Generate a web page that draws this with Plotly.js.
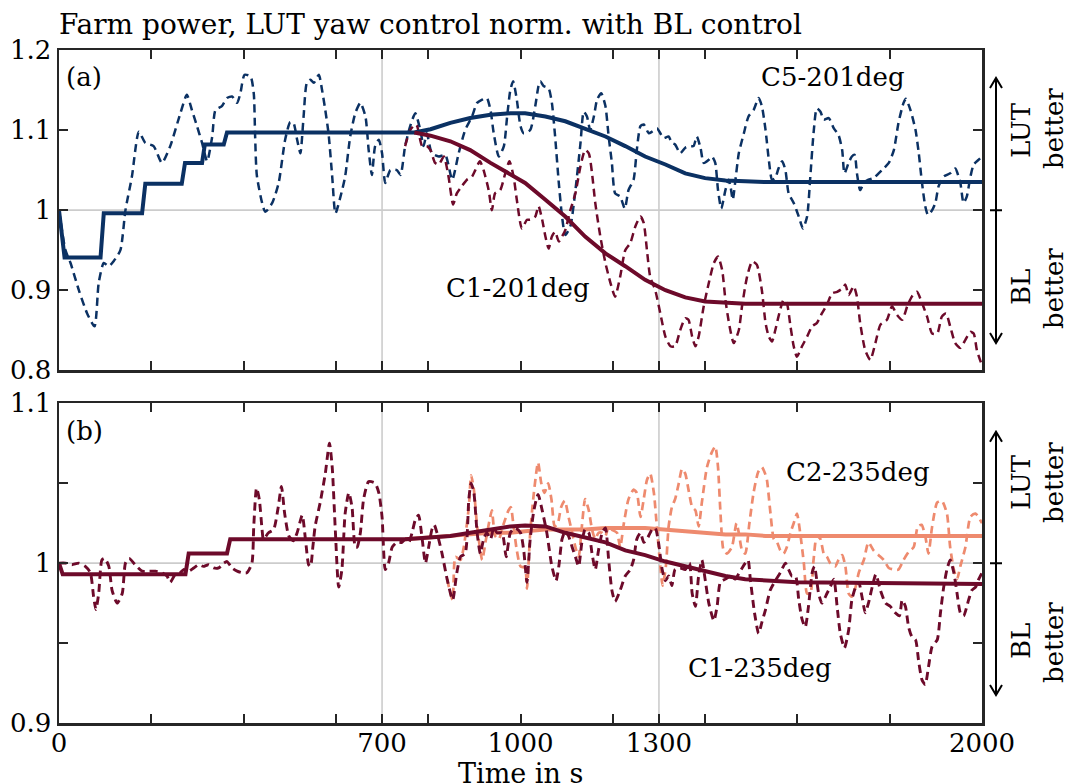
<!DOCTYPE html>
<html>
<head>
<meta charset="utf-8">
<script src="https://cdn.plot.ly/plotly-3.0.1.min.js"></script>
<style>html,body{margin:0;padding:0;background:#fff;}</style>
</head>
<body>
<div id="chart" style="width:1069px;height:784px;"></div>
<script>
// ---------------- data (time in s, normalized farm power) ----------------
const xTickVals = [0, 700, 1000, 1300, 2000];
const xTickText = ['0', '700', '1000', '1300', '2000'];
const xMinorTicks = [200, 400, 600, 800, 1200, 1400, 1600, 1800];
const yTopTicks = [0.8, 0.9, 1, 1.1, 1.2];
const yTopText = ['0.8', '0.9', '1', '1.1', '1.2'];
const yBotTicks = [0.9, 1, 1.1];
const yBotText = ['0.9', '1', '1.1'];
const yBotMinor = [0.95, 1.05];
const gridX = [700, 1300];
const gridY = 1;

// (a) C5-201deg
const c5_201_dashed = [[0,1.000],[14,0.950],[25,0.934],[43,0.900],[61,0.871],[77,0.855],[86,0.909],[97,0.934],[108,0.930],[118,0.936],[133,0.950],[144,1.000],[158,1.042],[173,1.098],[187,1.084],[205,1.080],[223,1.059],[241,1.080],[263,1.121],[277,1.144],[288,1.125],[299,1.105],[310,1.084],[321,1.061],[332,1.092],[339,1.125],[353,1.130],[364,1.140],[375,1.142],[386,1.134],[393,1.146],[402,1.169],[415,1.167],[422,1.146],[425,1.092],[429,1.042],[447,0.998],[462,1.009],[476,1.034],[490,1.088],[501,1.110],[508,1.109],[516,1.088],[523,1.071],[530,1.117],[537,1.159],[545,1.163],[552,1.159],[563,1.169],[570,1.150],[577,1.125],[584,1.096],[592,1.042],[599,0.996],[610,1.017],[620,1.042],[631,1.092],[642,1.121],[653,1.134],[664,1.117],[671,1.075],[678,1.044],[685,1.080],[693,1.088],[700,1.071],[707,1.034],[718,1.050],[732,1.050],[740,1.044],[750,1.080],[761,1.105],[772,1.121],[783,1.100],[790,1.080],[797,1.096],[808,1.071],[823,1.067],[837,1.069],[852,1.038],[866,1.071],[880,1.100],[895,1.117],[906,1.134],[917,1.138],[927,1.140],[935,1.125],[942,1.096],[953,1.067],[964,1.080],[971,1.117],[978,1.150],[984,1.161],[992,1.138],[1000,1.105],[1007,1.096],[1021,1.100],[1032,1.130],[1039,1.155],[1043,1.161],[1050,1.155],[1061,1.152],[1068,1.134],[1075,1.092],[1083,1.034],[1090,0.992],[1097,0.969],[1108,0.980],[1119,1.025],[1130,1.084],[1137,1.123],[1144,1.117],[1151,1.100],[1159,1.117],[1166,1.138],[1175,1.146],[1184,1.130],[1191,1.092],[1198,1.059],[1205,1.021],[1216,1.017],[1226,1.002],[1234,1.025],[1245,1.038],[1252,1.075],[1260,1.105],[1267,1.107],[1278,1.096],[1285,1.098],[1296,1.102],[1303,1.096],[1310,1.090],[1321,1.092],[1328,1.084],[1335,1.082],[1346,1.071],[1357,1.078],[1368,1.080],[1375,1.080],[1382,1.092],[1390,1.078],[1397,1.059],[1408,1.063],[1415,1.067],[1422,1.059],[1428,1.025],[1435,1.002],[1444,1.025],[1451,1.038],[1455,1.030],[1460,1.013],[1465,1.034],[1473,1.071],[1484,1.096],[1494,1.117],[1505,1.125],[1516,1.140],[1523,1.130],[1531,1.100],[1538,1.063],[1545,1.038],[1552,1.040],[1559,1.052],[1567,1.061],[1574,1.050],[1581,1.021],[1592,1.009],[1603,0.992],[1612,0.977],[1621,0.992],[1628,1.042],[1635,1.096],[1642,1.127],[1650,1.123],[1657,1.113],[1668,1.115],[1679,1.102],[1689,1.094],[1697,1.075],[1702,1.046],[1711,1.059],[1718,1.067],[1724,1.069],[1729,1.046],[1736,1.025],[1744,1.034],[1754,1.038],[1765,1.040],[1776,1.046],[1787,1.052],[1798,1.059],[1809,1.075],[1819,1.109],[1830,1.134],[1835,1.139],[1845,1.125],[1856,1.100],[1863,1.071],[1870,1.034],[1877,1.005],[1883,0.994],[1892,1.000],[1899,1.009],[1906,1.030],[1917,1.042],[1931,1.046],[1942,1.052],[1953,1.034],[1960,1.009],[1967,1.017],[1975,1.042],[1982,1.057],[1993,1.063],[2000,1.067]];
const c5_201_solid = [[0,1.000],[12,0.941],[90,0.941],[97,0.996],[180,0.996],[187,1.033],[266,1.033],[273,1.059],[310,1.059],[316,1.082],[357,1.082],[364,1.097],[770,1.097],[805,1.101],[848,1.109],[891,1.115],[935,1.119],[978,1.121],[1010,1.121],[1054,1.117],[1097,1.111],[1140,1.102],[1184,1.092],[1227,1.080],[1270,1.067],[1314,1.057],[1357,1.046],[1400,1.040],[1444,1.037],[1487,1.036],[1531,1.035],[2000,1.035]];

// (a) C1-201deg (identical to C5-201deg before ~760 s)
const c1_201_dashed = [[750,1.080],[761,1.100],[772,1.107],[776,1.105],[787,1.080],[797,1.080],[805,1.075],[815,1.059],[823,1.057],[834,1.067],[844,1.042],[854,1.007],[862,1.021],[873,1.030],[884,1.038],[895,1.042],[902,1.050],[912,1.061],[920,1.050],[931,1.025],[938,1.000],[945,1.021],[956,1.025],[967,1.046],[976,1.061],[985,1.042],[992,1.013],[1003,0.977],[1014,0.988],[1021,0.988],[1032,0.992],[1039,1.005],[1047,0.988],[1054,0.967],[1061,0.952],[1068,0.967],[1075,0.973],[1083,0.961],[1090,0.967],[1097,0.975],[1108,1.000],[1119,1.021],[1130,1.055],[1140,1.075],[1148,1.071],[1155,1.046],[1162,1.009],[1173,0.967],[1184,0.934],[1195,0.909],[1205,0.892],[1216,0.917],[1227,0.950],[1238,0.959],[1249,0.980],[1260,0.992],[1267,0.984],[1274,0.950],[1281,0.917],[1292,0.900],[1303,0.871],[1314,0.842],[1325,0.830],[1335,0.830],[1346,0.850],[1357,0.865],[1364,0.863],[1372,0.842],[1379,0.830],[1386,0.842],[1397,0.880],[1408,0.909],[1419,0.934],[1428,0.942],[1437,0.925],[1444,0.888],[1453,0.855],[1462,0.834],[1473,0.850],[1480,0.880],[1491,0.917],[1502,0.936],[1512,0.932],[1523,0.900],[1531,0.859],[1538,0.842],[1545,0.836],[1552,0.850],[1559,0.867],[1570,0.888],[1577,0.884],[1585,0.855],[1592,0.830],[1599,0.817],[1610,0.830],[1621,0.842],[1632,0.855],[1642,0.859],[1653,0.871],[1664,0.882],[1675,0.896],[1686,0.898],[1697,0.902],[1704,0.907],[1711,0.894],[1722,0.905],[1729,0.892],[1736,0.859],[1747,0.825],[1758,0.813],[1769,0.834],[1780,0.857],[1794,0.863],[1805,0.880],[1816,0.869],[1827,0.863],[1838,0.880],[1848,0.892],[1859,0.898],[1870,0.884],[1881,0.867],[1892,0.846],[1903,0.846],[1913,0.867],[1922,0.871],[1931,0.855],[1942,0.834],[1953,0.828],[1964,0.838],[1975,0.848],[1982,0.846],[1989,0.825],[2000,0.806]];
const c1_201_solid = [[770,1.097],[805,1.093],[848,1.086],[891,1.075],[935,1.059],[978,1.044],[1010,1.034],[1054,1.013],[1097,0.992],[1140,0.967],[1184,0.946],[1227,0.930],[1270,0.913],[1314,0.900],[1357,0.891],[1400,0.886],[1444,0.884],[1487,0.883],[1531,0.883],[2000,0.883]];

// (b) C1-235deg
const c1_235_dashed = [[0,1.000],[14,1.000],[28,0.999],[43,1.000],[57,0.998],[68,0.994],[75,0.979],[80,0.971],[86,0.981],[93,1.002],[99,1.003],[108,0.998],[115,0.983],[126,0.975],[137,0.981],[144,1.000],[152,1.003],[165,0.999],[180,0.995],[194,0.995],[209,0.995],[223,0.994],[234,0.992],[241,0.988],[252,0.993],[263,0.994],[270,0.996],[281,0.995],[292,0.997],[303,0.999],[313,0.998],[324,0.999],[335,0.997],[346,0.997],[357,1.000],[364,1.001],[375,0.997],[386,0.995],[397,0.994],[407,0.994],[418,1.000],[422,1.023],[428,1.047],[434,1.040],[440,1.021],[443,1.015],[454,1.019],[465,1.021],[475,1.035],[482,1.048],[489,1.031],[498,1.017],[508,1.014],[516,1.019],[527,1.030],[534,1.015],[541,0.999],[545,0.998],[550,1.010],[555,1.023],[566,1.038],[577,1.056],[586,1.075],[592,1.060],[599,1.019],[606,0.985],[613,0.996],[620,1.031],[628,1.044],[635,1.035],[642,1.010],[646,1.010],[653,1.019],[660,1.040],[671,1.051],[685,1.050],[693,1.044],[700,1.029],[707,0.996],[714,1.000],[722,1.010],[732,1.013],[743,1.013],[750,1.015],[758,1.013],[765,1.019],[772,1.027],[779,1.030],[787,1.015],[794,1.000],[801,1.010],[808,1.021],[813,1.024],[819,1.019],[830,1.006],[841,0.990],[853,0.977],[862,0.994],[870,1.004],[880,1.006],[888,1.040],[893,1.050],[899,1.044],[906,1.019],[913,1.006],[920,1.015],[927,1.019],[935,1.015],[942,1.022],[949,1.019],[960,1.019],[969,1.004],[978,1.019],[989,1.022],[1000,1.019],[1007,1.008],[1014,0.988],[1021,1.015],[1029,1.033],[1038,1.043],[1047,1.033],[1057,1.019],[1068,0.998],[1077,0.989],[1083,0.998],[1090,1.015],[1097,1.020],[1104,1.017],[1112,1.010],[1119,1.004],[1126,0.998],[1133,1.013],[1140,1.021],[1148,1.019],[1155,1.006],[1162,0.996],[1169,1.008],[1177,1.019],[1184,1.022],[1191,1.002],[1198,0.983],[1205,0.976],[1216,0.983],[1227,0.992],[1238,0.996],[1245,1.002],[1252,1.015],[1260,1.019],[1267,1.013],[1274,1.015],[1285,1.021],[1292,1.022],[1299,1.013],[1307,0.996],[1314,0.989],[1321,0.992],[1328,0.986],[1335,0.996],[1346,0.997],[1357,0.996],[1366,1.000],[1372,0.981],[1379,0.973],[1386,0.992],[1393,1.002],[1400,0.990],[1408,0.975],[1419,0.964],[1426,0.973],[1433,0.988],[1444,0.990],[1455,0.992],[1465,0.990],[1476,0.995],[1487,1.000],[1493,1.002],[1498,0.990],[1507,0.969],[1516,0.956],[1523,0.963],[1531,0.971],[1541,0.983],[1552,0.989],[1563,0.994],[1574,1.000],[1581,0.996],[1588,0.992],[1596,0.992],[1603,0.977],[1610,0.965],[1617,0.960],[1624,0.973],[1632,0.994],[1637,0.998],[1646,0.981],[1653,0.975],[1664,0.981],[1671,0.985],[1679,0.990],[1686,0.973],[1693,0.956],[1702,0.947],[1711,0.958],[1718,0.977],[1726,0.985],[1733,0.988],[1740,0.979],[1747,0.969],[1754,0.975],[1762,0.985],[1770,0.993],[1780,0.983],[1791,0.975],[1801,0.973],[1812,0.969],[1821,0.967],[1827,0.977],[1834,0.973],[1841,0.960],[1848,0.954],[1856,0.952],[1863,0.938],[1870,0.927],[1877,0.924],[1884,0.935],[1892,0.948],[1903,0.952],[1910,0.969],[1917,0.985],[1924,0.996],[1931,1.002],[1939,0.994],[1946,0.981],[1953,0.969],[1960,0.967],[1971,0.977],[1978,0.983],[1986,0.985],[1993,0.990],[2000,0.994]];
const c1_235_solid = [[0,1.000],[8,0.993],[274,0.993],[281,1.006],[364,1.006],[371,1.015],[750,1.015],[805,1.016],[848,1.017],[891,1.019],[935,1.021],[978,1.023],[1010,1.0235],[1054,1.023],[1097,1.019],[1140,1.016],[1184,1.013],[1227,1.008],[1270,1.005],[1314,1.001],[1357,0.998],[1400,0.995],[1444,0.992],[1487,0.990],[1531,0.989],[1600,0.988],[2000,0.987]];

// (b) C2-235deg (identical to C1-235deg before ~850 s)
const c2_235_dashed = [[841,0.990],[853,0.977],[859,1.004],[870,1.002],[877,1.010],[888,1.035],[893,1.055],[899,1.046],[906,1.023],[917,1.002],[924,1.013],[933,1.027],[938,1.033],[945,1.017],[953,1.015],[964,1.025],[974,1.033],[979,1.035],[985,1.023],[992,1.008],[1000,0.998],[1010,0.997],[1014,0.984],[1021,1.019],[1029,1.044],[1038,1.063],[1045,1.050],[1052,1.044],[1060,1.050],[1067,1.040],[1074,1.023],[1081,1.025],[1088,1.035],[1096,1.039],[1104,1.029],[1112,1.019],[1119,1.010],[1126,1.004],[1133,1.023],[1140,1.040],[1148,1.033],[1155,1.021],[1162,1.015],[1169,1.019],[1177,1.019],[1184,1.017],[1191,1.023],[1198,1.021],[1209,1.019],[1216,1.010],[1224,1.025],[1234,1.040],[1245,1.046],[1252,1.044],[1260,1.029],[1267,1.040],[1274,1.052],[1281,1.056],[1289,1.044],[1296,1.021],[1303,0.998],[1308,0.986],[1315,0.998],[1321,1.023],[1328,1.035],[1335,1.040],[1343,1.050],[1350,1.059],[1357,1.056],[1364,1.046],[1372,1.035],[1379,1.033],[1386,1.023],[1393,1.038],[1404,1.060],[1414,1.069],[1422,1.073],[1428,1.060],[1433,1.033],[1440,1.008],[1447,1.006],[1458,1.010],[1468,1.025],[1473,1.019],[1480,1.008],[1487,1.006],[1496,1.025],[1505,1.044],[1515,1.057],[1523,1.060],[1530,1.056],[1534,1.052],[1541,1.033],[1549,1.015],[1556,1.013],[1563,1.008],[1570,1.006],[1577,1.010],[1585,1.019],[1592,1.025],[1599,1.031],[1606,1.019],[1614,1.000],[1621,0.981],[1628,0.981],[1635,1.002],[1642,1.017],[1650,1.015],[1657,1.006],[1664,1.004],[1671,1.000],[1682,0.998],[1689,1.002],[1697,1.005],[1704,0.998],[1711,0.981],[1718,0.979],[1726,0.985],[1733,0.994],[1744,1.002],[1754,1.013],[1765,1.008],[1776,1.005],[1787,1.002],[1798,0.997],[1809,0.996],[1819,0.996],[1830,1.002],[1841,1.007],[1852,1.010],[1861,1.023],[1869,1.024],[1877,1.017],[1884,1.006],[1892,1.023],[1903,1.038],[1913,1.039],[1924,1.031],[1931,1.010],[1939,0.996],[1946,0.990],[1953,0.998],[1964,1.010],[1975,1.029],[1986,1.031],[2000,1.025]];
const c2_235_solid = [[750,1.015],[805,1.016],[848,1.017],[891,1.018],[935,1.019],[978,1.019],[1010,1.020],[1054,1.021],[1140,1.021],[1184,1.022],[1270,1.022],[1314,1.021],[1357,1.020],[1400,1.019],[1444,1.018],[1487,1.018],[1531,1.017],[2000,1.017]];

// ---------------- styling ----------------
const BLUE = '#0b3163', RED = '#6d0a2a', SALMON = '#ee8a6e', AX = '#262626', GRID = '#cccccc';
const FONT = 'DejaVu Serif';
const FS = 26;
const DASH = '8px,5px';

const W = 1069, H = 784, ML = 59, MR = 87, MT = 50, MB = 61;
const PW = W - ML - MR, PH = H - MT - MB;
const px = x => (x - ML) / PW;          // pixel -> paper x
const py = y => (H - MB - y) / PH;      // pixel -> paper y

function tr(data, xa, ya, color, width, dash, shape) {
  return {
    x: data.map(d => d[0]), y: data.map(d => d[1]),
    xaxis: xa, yaxis: ya, type: 'scatter', mode: 'lines', hoverinfo: 'skip',
    line: {color: color, width: width, dash: dash || 'solid', shape: shape || 'linear', smoothing: 0.6}
  };
}

const traces = [
  tr(c5_201_dashed, 'x', 'y', BLUE, 2.5, DASH, 'spline'),
  tr(c1_201_dashed, 'x', 'y', RED, 2.5, DASH, 'spline'),
  tr(c5_201_solid, 'x', 'y', BLUE, 4),
  tr(c1_201_solid, 'x', 'y', RED, 4),
  tr(c2_235_dashed, 'x2', 'y2', SALMON, 2.7, DASH, 'spline'),
  tr(c2_235_solid, 'x2', 'y2', SALMON, 4),
  tr(c1_235_dashed, 'x2', 'y2', RED, 2.9, DASH, 'spline'),
  tr(c1_235_solid, 'x2', 'y2', RED, 4)
];

const tickCommon = {
  ticks: 'inside', ticklen: 9, tickwidth: 2, tickcolor: AX,
  showline: true, linecolor: AX, linewidth: 2.5, mirror: 'ticks',
  showgrid: false, zeroline: false, fixedrange: true,
  tickfont: {family: FONT, size: FS, color: '#000'}
};
const minorCommon = {ticks: 'inside', ticklen: 9, tickwidth: 2, tickcolor: AX, showgrid: false};

// gridlines
const shapes = [];
[['x', 'y'], ['x2', 'y2']].forEach(([xa, ya]) => {
  gridX.forEach(g => shapes.push({type: 'line', xref: xa, yref: ya + ' domain', x0: g, x1: g, y0: 0, y1: 1,
    line: {color: GRID, width: 1.6}, layer: 'below'}));
  shapes.push({type: 'line', xref: xa + ' domain', yref: ya, x0: 0, x1: 1, y0: gridY, y1: gridY,
    line: {color: GRID, width: 1.6}, layer: 'below'});
});

// double arrows at the right ("LUT better" / "BL better")
function arrow(yTopPx, yMidPx, yBotPx) {
  const ax = px(996), hw = 6 / PW, hl = 10 / PH;
  const t = py(yTopPx), m = py(yMidPx), b = py(yBotPx);
  return {type: 'path', xref: 'paper', yref: 'paper', layer: 'above',
    line: {color: '#000', width: 2},
    path: `M ${ax},${t} L ${ax},${b} M ${ax - hw},${t - hl} L ${ax},${t} L ${ax + hw},${t - hl} ` +
          `M ${ax - hw},${b + hl} L ${ax},${b} L ${ax + hw},${b + hl} M ${ax - hw},${m} L ${ax + hw},${m}`};
}
shapes.push(arrow(78, 210.3, 343));
shapes.push(arrow(431.7, 563.3, 695));

function ann(text, xPx, yPx, xanchor, angle, size) {
  return {text: text, xref: 'paper', yref: 'paper', x: px(xPx), y: py(yPx),
    xanchor: xanchor || 'left', yanchor: 'middle', showarrow: false, textangle: angle || 0,
    borderpad: 0, font: {family: FONT, size: size || FS, color: '#000'}};
}
const annotations = [
  ann('(a)', 65, 77),
  ann('(b)', 65, 431),
  ann('C5-201deg', 760, 77),
  ann('C1-201deg', 445, 288),
  ann('C2-235deg', 785, 472),
  ann('C1-235deg', 687, 668),
  ann('LUT', 1021, 130, 'center', -90),
  ann('better', 1054, 129, 'center', -90),
  ann('BL', 1021, 287, 'center', -90),
  ann('better', 1054, 289, 'center', -90),
  ann('LUT', 1021, 482, 'center', -90),
  ann('better', 1054, 483, 'center', -90),
  ann('BL', 1021, 641, 'center', -90),
  ann('better', 1054, 643, 'center', -90),
  ann('Time in s', 520, 773, 'center', 0, 27)
];

const layout = {
  width: W, height: H,
  margin: {l: ML, r: MR, t: MT, b: MB, pad: 0},
  paper_bgcolor: '#fff', plot_bgcolor: '#fff',
  showlegend: false,
  font: {family: FONT, size: FS, color: '#000'},
  title: {text: 'Farm power, LUT yaw control norm. with BL control',
    x: 0, xref: 'paper', xanchor: 'left', y: 1 - 24 / H, yref: 'container', yanchor: 'middle',
    font: {family: FONT, size: 28, color: '#000'}},
  xaxis: Object.assign({}, tickCommon, {domain: [0, 1], anchor: 'y', range: [0, 2000],
    tickmode: 'array', tickvals: xTickVals, ticktext: xTickText, showticklabels: false,
    minor: Object.assign({tickmode: 'array', tickvals: xMinorTicks}, minorCommon)}),
  yaxis: Object.assign({}, tickCommon, {domain: [py(370.3), 1], anchor: 'x', range: [0.8, 1.2],
    tickmode: 'array', tickvals: yTopTicks, ticktext: yTopText}),
  xaxis2: Object.assign({}, tickCommon, {domain: [0, 1], anchor: 'y2', range: [0, 2000],
    tickmode: 'array', tickvals: xTickVals, ticktext: xTickText, ticklabelstandoff: -5,
    minor: Object.assign({tickmode: 'array', tickvals: xMinorTicks}, minorCommon)}),
  yaxis2: Object.assign({}, tickCommon, {domain: [0, py(403.3)], anchor: 'x2', range: [0.9, 1.1],
    tickmode: 'array', tickvals: yBotTicks, ticktext: yBotText,
    minor: Object.assign({tickmode: 'array', tickvals: yBotMinor}, minorCommon)}),
  shapes: shapes,
  annotations: annotations
};

Plotly.newPlot('chart', traces, layout, {displayModeBar: false, staticPlot: true});
</script>
</body>
</html>
